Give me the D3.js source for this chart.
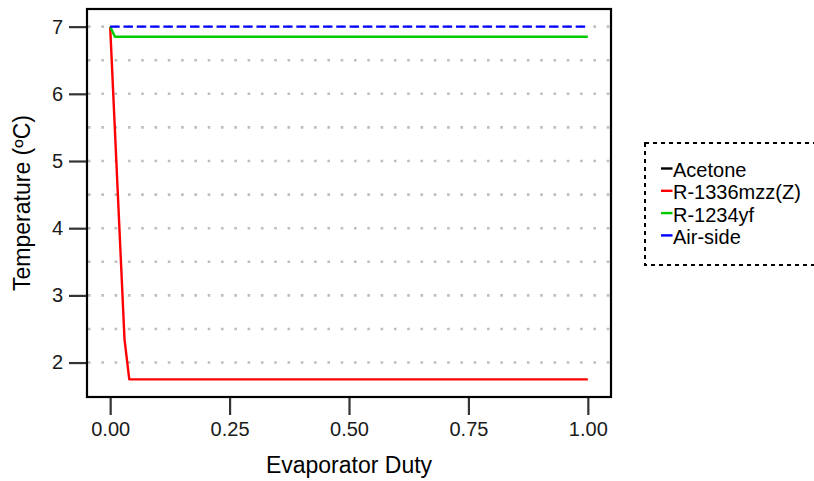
<!DOCTYPE html>
<html><head><meta charset="utf-8">
<script src="https://cdn.jsdelivr.net/npm/d3@7"></script>
<style>body{margin:0;background:#fff}svg{display:block}text{font-family:"Liberation Sans",Arial,sans-serif}</style>
</head><body>
<svg id="c" width="814" height="481"></svg>
<script>
const xTicks = [0, 0.25, 0.5, 0.75, 1];
const xTickLabels = ["0.00", "0.25", "0.50", "0.75", "1.00"];
const yTicks = [2, 3, 4, 5, 6, 7];
const yGrid = [2, 2.5, 3, 3.5, 4, 4.5, 5, 5.5, 6, 6.5, 7];
const seriesNames = ["Acetone", "R-1336mzz(Z)", "R-1234yf", "Air-side"];
const seriesColors = ["#000000", "#ff0000", "#00cc00", "#0000ff"];
const acetoneX = [], acetoneY = [];
const r1336X = [0, 0.03, 0.04, 1.0];
const r1336Y = [7.0, 2.35, 1.75, 1.75];
const r1234X = [0, 0.01, 1.0];
const r1234Y = [7.0, 6.85, 6.85];
const airX = [0, 1.0];
const airY = [7.0, 7.0];

const svg = d3.select("#c");
const P = {l: 87, r: 611, t: 9, b: 397};
const x = d3.scaleLinear().domain([-0.0485, 1.0485]).range([P.l, P.r]);
const y = d3.scaleLinear().domain([1.4875, 7.2625]).range([P.b, P.t]);

// grid
svg.append("g").selectAll("line").data(yGrid).join("line")
  .attr("x1", P.l + 1).attr("x2", P.r).attr("y1", d => y(d)).attr("y2", d => y(d))
  .attr("stroke", "#bebebe").attr("stroke-width", 2.6).attr("stroke-dasharray", "2.6 10.7");

const line = d3.line().x(d => x(d[0])).y(d => y(d[1]));
const series = [
  {x: acetoneX, y: acetoneY, c: seriesColors[0], dash: null},
  {x: r1336X, y: r1336Y, c: seriesColors[1], dash: null},
  {x: r1234X, y: r1234Y, c: seriesColors[2], dash: null},
  {x: airX, y: airY, c: seriesColors[3], dash: "9.5 3.8"}
];
series.forEach(s => {
  if (!s.x.length) return;
  svg.append("path").datum(s.x.map((v, i) => [v, s.y[i]]))
    .attr("d", line).attr("fill", "none").attr("stroke", s.c)
    .attr("stroke-width", 2.4).attr("stroke-linejoin", "round")
    .attr("stroke-dasharray", s.dash);
});

// panel border
svg.append("rect").attr("x", P.l).attr("y", P.t).attr("width", P.r - P.l).attr("height", P.b - P.t)
  .attr("fill", "none").attr("stroke", "#000").attr("stroke-width", 2.2);

// axes
const xAxis = d3.axisBottom(x).tickValues(xTicks).tickFormat((d, i) => xTickLabels[i]).tickSize(17).tickPadding(7);
const gx = svg.append("g").attr("transform", `translate(0,${P.b + 1})`).call(xAxis);
gx.select(".domain").remove();
gx.selectAll(".tick line").attr("stroke", "#333").attr("stroke-width", 2.2);
gx.selectAll(".tick text").attr("font-size", 20).attr("fill", "#1a1a1a");

const yAxis = d3.axisLeft(y).tickValues(yTicks).tickFormat(d3.format("d")).tickSize(17).tickPadding(6);
const gy = svg.append("g").attr("transform", `translate(${P.l - 1},0)`).call(yAxis);
gy.select(".domain").remove();
gy.selectAll(".tick line").attr("stroke", "#333").attr("stroke-width", 2.2);
gy.selectAll(".tick text").attr("font-size", 20).attr("fill", "#1a1a1a");

// axis titles
svg.append("text").attr("x", (P.l + P.r) / 2).attr("y", 473).attr("text-anchor", "middle")
  .attr("font-size", 23).attr("fill", "#000").text("Evaporator Duty");
svg.append("text").attr("transform", `translate(30,${(P.t + P.b) / 2}) rotate(-90)`).attr("text-anchor", "middle")
  .attr("font-size", 23).attr("fill", "#000").text("Temperature (ºC)");

// legend
svg.append("rect").attr("x", 645).attr("y", 143).attr("width", 180).attr("height", 122)
  .attr("fill", "none").attr("stroke", "#000").attr("stroke-width", 2).attr("stroke-dasharray", "4 4");
const lg = svg.append("g");
seriesNames.forEach((n, i) => {
  const cy = 170 + i * 22.3;
  lg.append("line").attr("x1", 661).attr("x2", 672.5).attr("y1", cy - 1.5).attr("y2", cy - 1.5)
    .attr("stroke", seriesColors[i]).attr("stroke-width", 2.4);
  lg.append("text").attr("x", 673).attr("y", cy + 7).attr("font-size", 20).attr("fill", "#000").text(n);
});
</script>
</body></html>
